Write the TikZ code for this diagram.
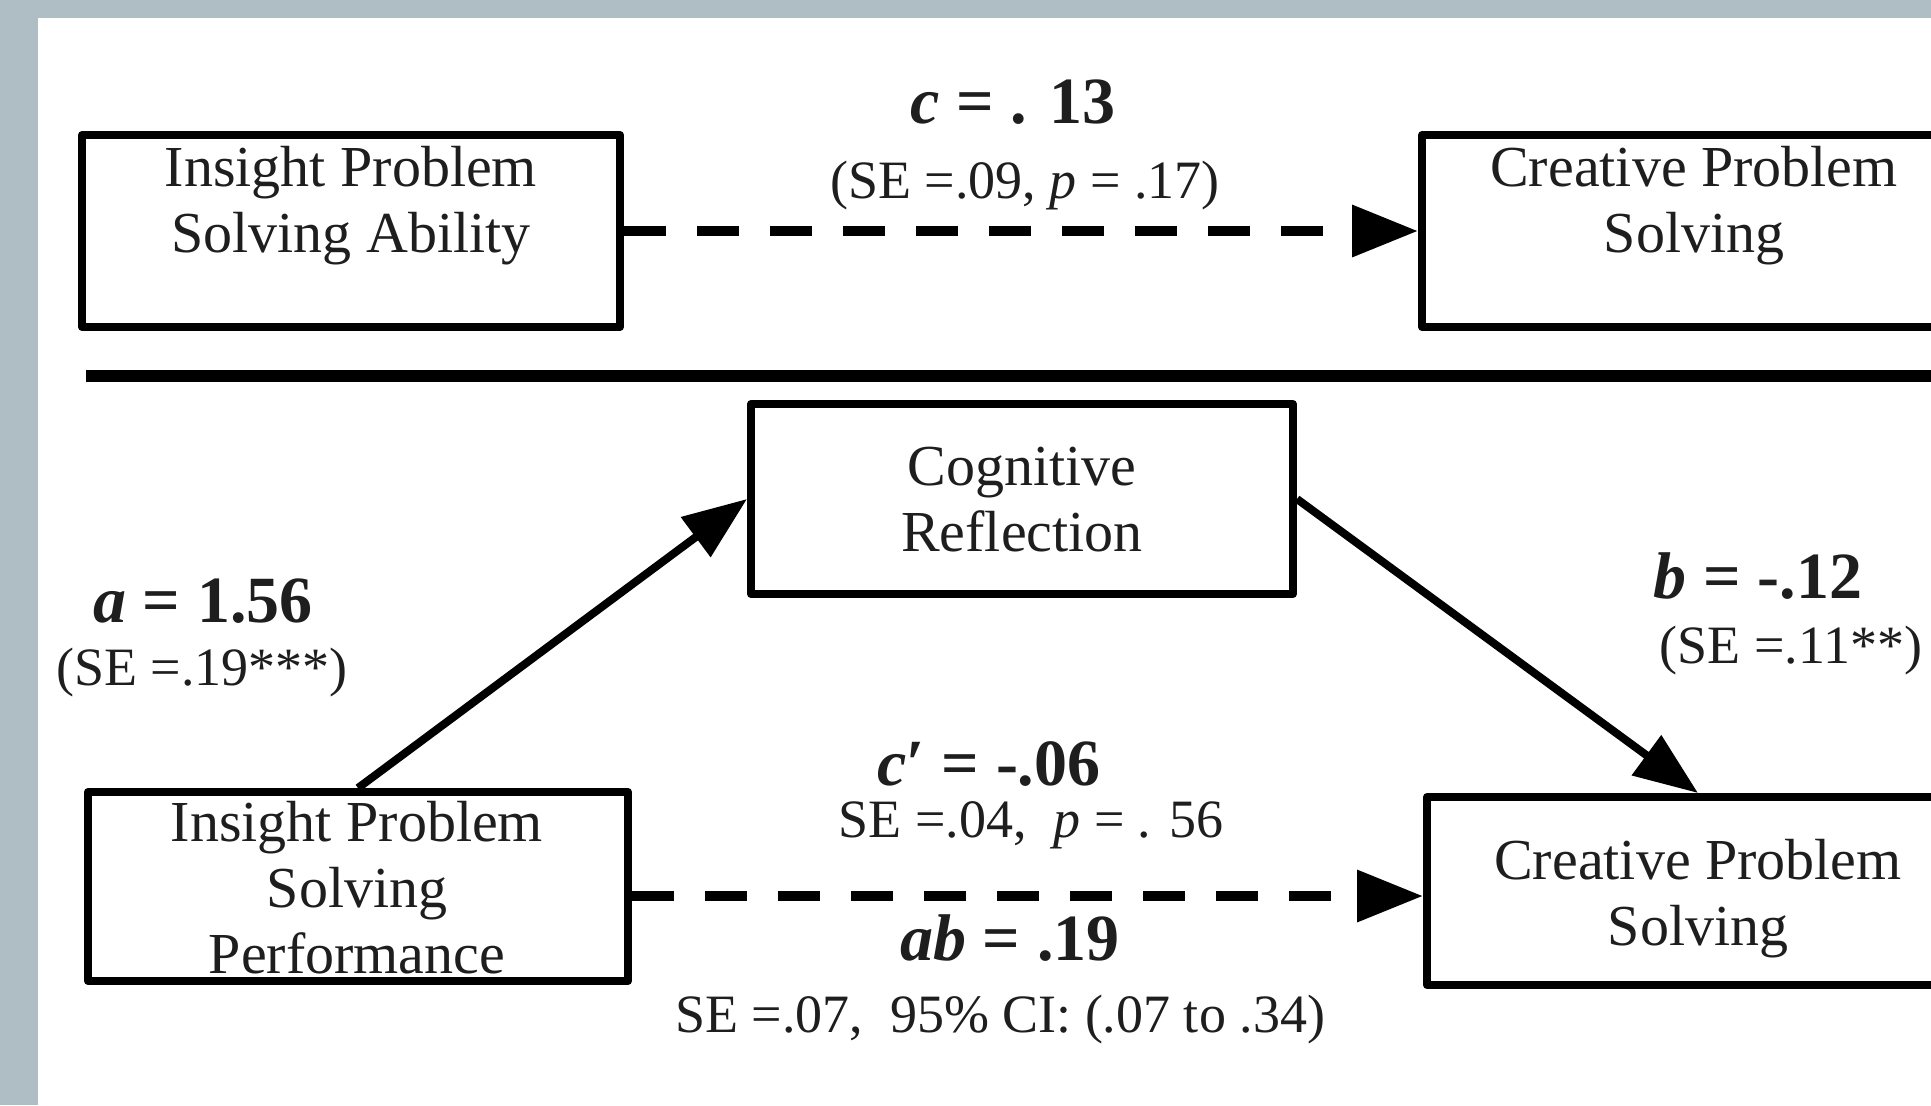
\documentclass[tikz,border=0pt]{standalone}
\usepackage{fontspec}
\setmainfont{Liberation Serif}
\usetikzlibrary{arrows.meta}
\definecolor{bggrey}{RGB}{175,190,197}
\definecolor{txt}{RGB}{30,30,30}
\begin{document}
\begin{tikzpicture}[x=0.5pt,y=-0.5pt,
  box/.style={draw=black, line width=4pt, line join=round, inner sep=0pt, fill=none},
  btxt/.style={font=\fontsize{29pt}{33pt}\selectfont, align=center, inner sep=0pt, text=txt, anchor=base},
  blab/.style={font=\fontsize{33pt}{38pt}\selectfont\bfseries, inner sep=0pt, text=txt, anchor=base},
  slab/.style={font=\fontsize{27pt}{31pt}\selectfont, inner sep=0pt, text=txt, anchor=base},
  arr/.style={line width=4pt, -{Triangle[length=32pt,width=24pt]}},
  dsh/.style={line width=5pt, dash pattern=on 21pt off 15.5pt, -{Triangle[length=33pt,width=25pt]}}
]
\useasboundingbox (0,0) rectangle (1931,1105);
\clip (0,0) rectangle (1931,1105);
\fill[bggrey] (0,0) rectangle (1931,1105);
\fill[white] (38,18) rectangle (1931,1105);

% boxes
\node[box, minimum width=269pt, minimum height=96pt] (tl) at (351,231) {};
\node[box, minimum width=272pt, minimum height=96pt] (tr) at (1694,231) {};
\node[box, minimum width=271pt, minimum height=95pt] (cog) at (1022,499) {};
\node[box, minimum width=270pt, minimum height=94.5pt] (bl) at (358,886.5) {};
\node[box, minimum width=271pt, minimum height=94pt] (br) at (1698,891) {};

% box texts (base anchor = baseline of the last line)
\node[btxt] (tltxt) at (351,252) {Insight Problem\\Solving Ability};
\node[btxt] (trtxt) at (1694,252) {Creative Problem\\Solving};
\node[btxt] (cogtxt) at (1022,551) {Cognitive\\Reflection};
\node[btxt] (bltxt) at (357,973) {Insight Problem\\Solving\\Performance};
\node[btxt] (brtxt) at (1698,945) {Creative Problem\\Solving};

% separator rule
\coordinate (rl) at (86,376);
\coordinate (rr) at (1931,376);
\draw[line width=6pt] (rl) -- (rr);

% connectors
\draw[dsh] (tl.east) -- (tr.west);
\draw[arr] (bl.north) -- (cog.west);
\draw[arr] (cog.east) -- (br.north);
\coordinate (dend) at ([yshift=-2.5pt]br.west);
\draw[dsh] (bl.east |- dend) -- (dend);

% labels
\node[blab] (lc) at (1013,123) {\textit{c} = . 13};
\node[slab] (lcse) at (1025,198) {(SE =.09, \textit{p} = .17)};
\node[blab] (la) at (203,622) {\textit{a} = 1.56};
\node[slab] (lase) at (202,685) {(SE =.19***)};
\node[blab] (lb) at (1758,598) {\textit{b} = -.12};
\node[slab] (lbse) at (1791,663) {(SE =.11**)};
\node[blab] (lcp) at (989,785) {\textit{c}′ = -.06};
\node[slab] (lcpse) at (1031,837) {SE =.04,~~\textit{p} = . 56};
\node[blab] (lab) at (1010,960) {\textit{ab} = .19};
\node[slab] (labse) at (1000,1032) {SE =.07,~~95\% CI: (.07 to .34)};
\end{tikzpicture}
\end{document}
